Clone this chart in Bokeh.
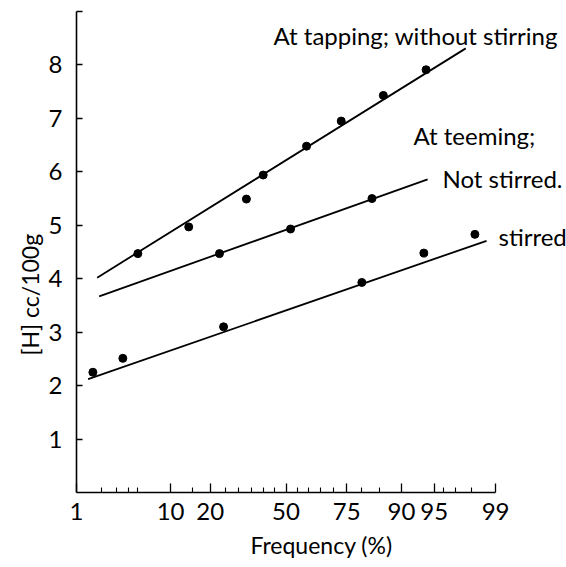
from statistics import NormalDist
from math import pi

from bokeh.plotting import figure
from bokeh.models import Range1d, FixedTicker, CustomJSTickFormatter, Label, Title
from bokeh.embed import file_html
from bokeh.resources import INLINE

# Hydrogen content [H] (cc/100g) against cumulative frequency (%)
tap_freq = [5, 14, 33, 40, 59, 73, 86, 94]
tap_h = [4.47, 4.97, 5.49, 5.94, 6.48, 6.95, 7.43, 7.91]

teem_ns_freq = [23, 52, 83]
teem_ns_h = [4.47, 4.93, 5.50]

teem_s_freq = [1.6, 3.5, 24.4, 80, 93.7, 98.2]
teem_s_h = [2.25, 2.51, 3.10, 3.93, 4.48, 4.83]

# Fitted straight lines (end points)
tap_fit_freq = [1.8, 97.7]
tap_fit_h = [4.02, 8.31]
teem_ns_fit_freq = [1.9, 94.2]
teem_ns_fit_h = [3.67, 5.86]
teem_s_fit_freq = [1.4, 98.7]
teem_s_fit_h = [2.12, 4.71]

# Probability-scale ticks
major_pct = [1, 10, 20, 50, 75, 90, 95, 99]
major_labels = ["1", "10", "20", "50", "75", "90", "95", "99"]
minor_pct = [2, 3, 4, 5, 15, 25, 30, 35, 40, 45, 55, 60, 65, 70, 80, 85, 96, 97, 98]
y_ticks = [1, 2, 3, 4, 5, 6, 7, 8, 9]
y_labels = ["1", "2", "3", "4", "5", "6", "7", "8", ""]

ND = NormalDist()


def probit(values):
    return [ND.inv_cdf(v / 100.0) for v in values]


FONT = "Lato"
z_lo = probit([1])[0]
z_hi = probit([99])[0]
px_per_z = 90.07

p = figure(
    width=566, height=567, output_backend="svg", toolbar_location=None,
    x_range=Range1d(z_lo, z_lo + 490 / px_per_z), y_range=Range1d(0, 9),
    min_border_left=76, min_border_right=0, min_border_top=11, min_border_bottom=75,
)
p.outline_line_color = None
p.xgrid.visible = False
p.ygrid.visible = False
p.background_fill_color = "white"
p.border_fill_color = "white"

# x axis on normal probability scale
xa = p.xaxis[0]
xa.bounds = (z_lo, z_hi)
xa.ticker = FixedTicker(ticks=probit(major_pct), minor_ticks=probit(minor_pct))
xa.formatter = CustomJSTickFormatter(args=dict(labels=major_labels),
                                     code="return labels[index]")
xa.axis_line_width = 1.6
xa.axis_line_color = "black"
xa.major_tick_in = 9
xa.major_tick_out = 0
xa.minor_tick_in = 5
xa.minor_tick_out = 0
xa.major_tick_line_width = 1.3
xa.minor_tick_line_width = 1.1
xa.major_label_text_font = FONT
xa.major_label_text_font_size = "24px"
xa.major_label_text_color = "black"
xa.major_label_standoff = 10
xa.axis_label = "Frequency (%)"
xa.axis_label_text_font = FONT
xa.axis_label_text_font_size = "23px"
xa.axis_label_text_font_style = "normal"
xa.axis_label_text_color = "black"
xa.axis_label_standoff = 8

ya = p.yaxis[0]
ya.bounds = (0, 9)
ya.ticker = FixedTicker(ticks=y_ticks, minor_ticks=[])
ya.major_label_overrides = {t: l for t, l in zip(y_ticks, y_labels)}
ya.axis_line_width = 1.6
ya.axis_line_color = "black"
ya.major_tick_in = 6
ya.major_tick_out = 0
ya.major_tick_line_width = 1.3
ya.major_label_text_font = FONT
ya.major_label_text_font_size = "24px"
ya.major_label_text_color = "black"
ya.major_label_standoff = 14

# y title, set a little below the middle of the axis
p.add_layout(Title(text="[H]  cc/100g", align="left", offset=137,
                   text_font=FONT, text_font_size="23px", text_font_style="normal",
                   text_color="black", standoff=4), "left")

# fitted lines
for fx, fy in [(tap_fit_freq, tap_fit_h), (teem_ns_fit_freq, teem_ns_fit_h),
               (teem_s_fit_freq, teem_s_fit_h)]:
    p.line(probit(fx), fy, line_color="black", line_width=1.8)

# observed points
for fx, fy in [(tap_freq, tap_h), (teem_ns_freq, teem_ns_h), (teem_s_freq, teem_s_h)]:
    p.scatter(probit(fx), fy, size=8, fill_color="black", line_color="black")


def z_at(px):
    return z_lo + (px - 76) / px_per_z


def h_at(py):
    return (492 - py) / 53.44


notes = [
    ("At tapping; without stirring", 273, 35),
    ("At teeming;", 413, 135),
    ("Not stirred.", 442, 178),
    ("stirred", 498, 236),
]
for txt, px, py in notes:
    p.add_layout(Label(x=z_at(px), y=h_at(py), text=txt, text_font=FONT,
                       text_font_size="24px", text_color="black",
                       text_baseline="middle", text_align="left"))

open("out.html", "w").write(file_html(p, INLINE))
